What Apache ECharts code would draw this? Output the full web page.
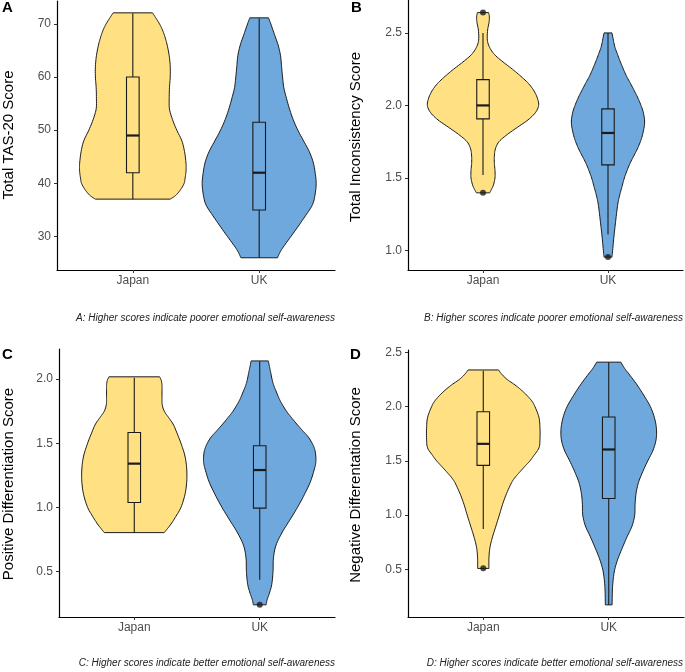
<!DOCTYPE html>
<html><head><meta charset="utf-8">
<script src="https://cdn.jsdelivr.net/npm/echarts@6/dist/echarts.min.js"></script>
<style>html,body{margin:0;padding:0;background:#fff}#c{width:685px;height:672px}</style>
</head><body><div id="c"></div>
<script>
const categories = ['Japan', 'UK'];
const panelLetters = ['A', 'B', 'C', 'D'];
const yTitles = ['Total TAS-20 Score', 'Total Inconsistency Score', 'Positive Differentiation Score', 'Negative Differentation Score'];
const captions = [
  'A: Higher scores indicate poorer emotional self-awareness',
  'B: Higher scores indicate poorer emotional self-awareness',
  'C: Higher scores indicate better emotional self-awareness',
  'D: Higher scores indicate better emotional self-awareness'
];
const yTicksA = [30, 40, 50, 60, 70];
const yTicksB = [1.0, 1.5, 2.0, 2.5];
const yTicksC = [0.5, 1.0, 1.5, 2.0];
const yTicksD = [0.5, 1.0, 1.5, 2.0, 2.5];

// violin profiles: [score, half-width in x-axis units], top to bottom
const violinA_Japan = [[72.07,0.156],[71,0.185],[70,0.211],[69,0.232],[68,0.248],[67,0.261],[66,0.272],[64,0.288],[62,0.296],[60,0.296],[58,0.290],[56,0.288],[54,0.290],[52,0.314],[50,0.348],[48,0.388],[46,0.409],[44,0.420],[43,0.422],[42,0.420],[41,0.414],[40,0.406],[39,0.383],[38,0.351],[37.5,0.327],[37.03,0.296]];
const violinA_UK = [[71.13,0.074],[70,0.092],[68,0.121],[66,0.150],[64,0.169],[62,0.177],[60,0.185],[58,0.195],[56,0.216],[54,0.240],[52,0.269],[50,0.306],[48,0.351],[46,0.396],[44,0.427],[42,0.443],[40,0.451],[38,0.443],[36,0.422],[34,0.369],[32,0.311],[30,0.251],[28,0.190],[27,0.164],[26,0.145]];
const violinB_Japan = [[2.64,0.045],[2.61,0.051],[2.57,0.048],[2.52,0.037],[2.45,0.035],[2.40,0.053],[2.35,0.093],[2.30,0.160],[2.25,0.235],[2.20,0.304],[2.15,0.365],[2.10,0.408],[2.05,0.435],[2.00,0.445],[1.95,0.419],[1.90,0.360],[1.85,0.277],[1.80,0.195],[1.75,0.128],[1.70,0.099],[1.65,0.091],[1.60,0.091],[1.55,0.096],[1.50,0.096],[1.45,0.083],[1.42,0.067],[1.397,0.053]];
const violinB_UK = [[2.50,0.032],[2.45,0.043],[2.40,0.056],[2.35,0.077],[2.30,0.099],[2.25,0.123],[2.20,0.149],[2.15,0.181],[2.10,0.211],[2.05,0.240],[2.00,0.264],[1.95,0.283],[1.88,0.293],[1.80,0.277],[1.75,0.259],[1.70,0.235],[1.65,0.205],[1.60,0.176],[1.55,0.152],[1.50,0.131],[1.45,0.115],[1.40,0.099],[1.35,0.085],[1.30,0.075],[1.20,0.061],[1.10,0.048],[1.00,0.037],[0.954,0.032]];
const violinC_Japan = [[2.018,0.202],[1.99,0.215],[1.95,0.221],[1.90,0.221],[1.85,0.221],[1.80,0.223],[1.75,0.239],[1.70,0.274],[1.65,0.309],[1.60,0.332],[1.50,0.372],[1.40,0.404],[1.30,0.418],[1.20,0.418],[1.10,0.404],[1.00,0.372],[0.93,0.332],[0.87,0.293],[0.83,0.261],[0.803,0.239]];
const violinC_UK = [[2.142,0.069],[2.10,0.077],[2.05,0.088],[2.00,0.098],[1.95,0.112],[1.90,0.133],[1.85,0.154],[1.80,0.181],[1.75,0.213],[1.70,0.253],[1.65,0.295],[1.60,0.340],[1.55,0.386],[1.50,0.418],[1.45,0.439],[1.40,0.447],[1.35,0.447],[1.30,0.436],[1.20,0.404],[1.10,0.356],[1.00,0.301],[0.90,0.239],[0.80,0.176],[0.70,0.128],[0.60,0.109],[0.50,0.106],[0.40,0.096],[0.33,0.077],[0.28,0.059],[0.24,0.051]];
const violinD_Japan = [[2.338,0.122],[2.30,0.146],[2.25,0.191],[2.20,0.253],[2.15,0.306],[2.10,0.351],[2.05,0.388],[2.00,0.412],[1.90,0.444],[1.80,0.452],[1.70,0.452],[1.62,0.444],[1.55,0.404],[1.50,0.372],[1.45,0.332],[1.40,0.293],[1.35,0.255],[1.30,0.226],[1.20,0.186],[1.10,0.154],[1.00,0.128],[0.90,0.101],[0.80,0.074],[0.70,0.053],[0.60,0.045],[0.509,0.045]];
const violinD_UK = [[2.41,0.096],[2.35,0.128],[2.30,0.162],[2.20,0.226],[2.10,0.282],[2.00,0.332],[1.90,0.364],[1.80,0.380],[1.70,0.378],[1.60,0.354],[1.50,0.311],[1.40,0.271],[1.30,0.237],[1.20,0.218],[1.10,0.210],[1.00,0.207],[0.90,0.186],[0.80,0.146],[0.70,0.109],[0.60,0.074],[0.50,0.048],[0.40,0.035],[0.30,0.029],[0.173,0.027]];

// box stats: [lower whisker, Q1, median, Q3, upper whisker]
const boxA = [[37, 42, 49, 60, 72], [26, 35, 42, 51.5, 71]];
const boxB = [[1.52, 1.907, 2.0, 2.178, 2.5], [1.11, 1.59, 1.81, 1.976, 2.5]];
const boxC = [[0.8, 1.038, 1.341, 1.584, 2.01], [0.436, 0.994, 1.291, 1.48, 2.14]];
const boxD = [[0.873, 1.459, 1.657, 1.953, 2.33], [0.173, 1.153, 1.605, 1.905, 2.41]];

// outliers: [category position, score]
const outliersA = [];
const outliersB = [[1, 2.64], [1, 1.397], [2, 0.954]];
const outliersC = [[2, 0.24]];
const outliersD = [[1, 0.51]];

const fills = ['#FFE082', '#6FA8DC'];
const ink = '#1a1a1a';

const panels = [
  {grid:{left:57, top:1, width:278, height:269}, ymin:23.7, ymax:74.3, ticks:yTicksA, dec:0, violins:[violinA_Japan, violinA_UK], box:boxA, out:outliersA},
  {grid:{left:408, top:0, width:275, height:270}, ymin:0.865, ymax:2.727, ticks:yTicksB, dec:1, violins:[violinB_Japan, violinB_UK], box:boxB, out:outliersB},
  {grid:{left:59, top:349, width:276, height:268}, ymin:0.145, ymax:2.235, ticks:yTicksC, dec:1, violins:[violinC_Japan, violinC_UK], box:boxC, out:outliersC},
  {grid:{left:408, top:350, width:276, height:267}, ymin:0.061, ymax:2.522, ticks:yTicksD, dec:1, violins:[violinD_Japan, violinD_UK], box:boxD, out:outliersD}
];

function catmull(pts) {
  const out = [];
  const n = pts.length;
  for (let i = 0; i < n - 1; i++) {
    const p0 = pts[Math.max(i - 1, 0)], p1 = pts[i], p2 = pts[i + 1], p3 = pts[Math.min(i + 2, n - 1)];
    const steps = 6;
    for (let s = 0; s < steps; s++) {
      const t = s / steps, t2 = t * t, t3 = t2 * t;
      const f = k => 0.5 * ((2 * p1[k]) + (-p0[k] + p2[k]) * t + (2 * p0[k] - 5 * p1[k] + 4 * p2[k] - p3[k]) * t2 + (-p0[k] + 3 * p1[k] - 3 * p2[k] + p3[k]) * t3);
      out.push([f(0), f(1)]);
    }
  }
  out.push(pts[n - 1]);
  return out;
}

const grids = [], xAxes = [], yAxes = [], series = [];
panels.forEach((p, i) => {
  grids.push(p.grid);
  xAxes.push({
    type: 'value', gridIndex: i, min: 0.4, max: 2.6,
    axisLine: {show: true, lineStyle: {color: '#000', width: 1.2}},
    axisTick: {show: true, customValues: [1, 2], length: 3, lineStyle: {color: '#333'}},
    axisLabel: {customValues: [1, 2], formatter: v => categories[Math.round(v) - 1], color: '#4d4d4d', fontSize: 12, fontFamily: 'Liberation Sans, Arial', margin: 5},
    splitLine: {show: false}
  });
  yAxes.push({
    type: 'value', gridIndex: i, min: p.ymin, max: p.ymax,
    axisLine: {show: true, lineStyle: {color: '#000', width: 1.2}},
    axisTick: {show: true, customValues: p.ticks, length: 3, lineStyle: {color: '#333'}},
    axisLabel: {customValues: p.ticks, formatter: v => v.toFixed(p.dec), color: '#4d4d4d', fontSize: 12, fontFamily: 'Liberation Sans, Arial', margin: 6},
    splitLine: {show: false}
  });
  series.push({
    type: 'custom', xAxisIndex: i, yAxisIndex: i, z: 1,
    data: [[1, p.box[0][2]], [2, p.box[1][2]]],
    encode: {x: 0, y: 1},
    renderItem: (params, api) => {
      const k = params.dataIndex, cat = api.value(0);
      const prof = p.violins[k];
      const right = catmull(prof.map(q => api.coord([cat + q[1], q[0]])));
      const left = catmull(prof.map(q => api.coord([cat - q[1], q[0]])));
      return {type: 'polygon', shape: {points: right.concat(left.reverse())},
        style: {fill: fills[k], stroke: ink, lineWidth: 1}};
    }
  });
  series.push({
    type: 'custom', xAxisIndex: i, yAxisIndex: i, z: 2,
    data: [[1].concat(p.box[0]), [2].concat(p.box[1])],
    encode: {x: 0, y: [1, 2, 3, 4, 5]},
    renderItem: (params, api) => {
      const cat = api.value(0);
      const lo = api.value(1), q1 = api.value(2), med = api.value(3), q3 = api.value(4), hi = api.value(5);
      const hw = 0.05;
      const pLo = api.coord([cat, lo]), pQ1 = api.coord([cat, q1]), pQ3 = api.coord([cat, q3]), pHi = api.coord([cat, hi]);
      const l = api.coord([cat - hw, q3]), r = api.coord([cat + hw, q1]);
      const ml = api.coord([cat - hw, med]), mr = api.coord([cat + hw, med]);
      const st = {stroke: ink, lineWidth: 1.1, fill: null};
      return {type: 'group', children: [
        {type: 'line', shape: {x1: pLo[0], y1: pLo[1], x2: pQ1[0], y2: pQ1[1]}, style: st},
        {type: 'line', shape: {x1: pQ3[0], y1: pQ3[1], x2: pHi[0], y2: pHi[1]}, style: st},
        {type: 'rect', shape: {x: l[0], y: l[1], width: r[0] - l[0], height: r[1] - l[1]}, style: {stroke: ink, lineWidth: 1.1, fill: 'transparent'}},
        {type: 'line', shape: {x1: ml[0], y1: ml[1], x2: mr[0], y2: mr[1]}, style: {stroke: ink, lineWidth: 2.2}}
      ]};
    }
  });
  series.push({
    type: 'scatter', xAxisIndex: i, yAxisIndex: i, z: 3,
    data: p.out, symbol: 'circle', symbolSize: 6,
    itemStyle: {color: ink}, silent: true
  });
});

const graphics = [];
const letterPos = [[2, 0], [351, 0], [2, 347], [350, 347]];
const titlePos = [[9, 135], [356, 137], [9, 484], [356, 485]];
const captionPos = [[335, 318], [683, 318], [335, 663], [683, 663]];
for (let i = 0; i < 4; i++) {
  graphics.push({type: 'text', x: letterPos[i][0], y: letterPos[i][1],
    style: {text: panelLetters[i], font: 'bold 15px Liberation Sans, Arial', fill: '#000', textAlign: 'left', textVerticalAlign: 'top'}});
  graphics.push({type: 'text', x: titlePos[i][0], y: titlePos[i][1], rotation: Math.PI / 2,
    style: {text: yTitles[i], font: '15px Liberation Sans, Arial', fill: '#000', textAlign: 'center', textVerticalAlign: 'middle'}});
  graphics.push({type: 'text', x: captionPos[i][0], y: captionPos[i][1],
    style: {text: captions[i], font: 'italic 10px Liberation Sans, Arial', fill: '#222', textAlign: 'right', textVerticalAlign: 'middle'}});
}

const chart = echarts.init(document.getElementById('c'), null, {renderer: 'canvas'});
chart.setOption({
  animation: false,
  backgroundColor: '#fff',
  grid: grids, xAxis: xAxes, yAxis: yAxes, series: series,
  graphic: graphics
});
</script>
</body></html>
